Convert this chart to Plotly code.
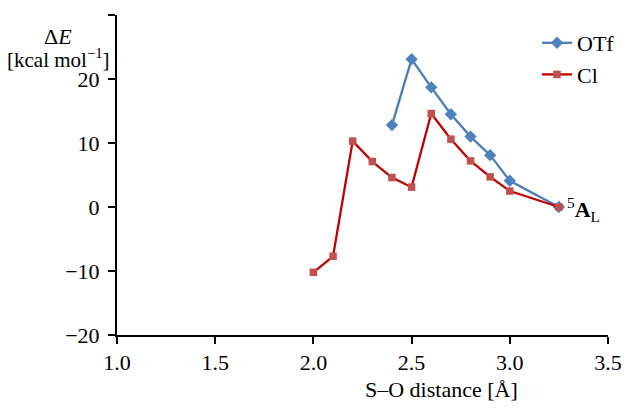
import plotly.graph_objects as go

otf_x = [2.4, 2.5, 2.6, 2.7, 2.8, 2.9, 3.0, 3.25]
otf_y = [12.8, 23.1, 18.7, 14.5, 11.0, 8.1, 4.1, 0.0]
cl_x = [2.0, 2.1, 2.2, 2.3, 2.4, 2.5, 2.6, 2.7, 2.8, 2.9, 3.0, 3.25]
cl_y = [-10.2, -7.7, 10.3, 7.1, 4.6, 3.1, 14.6, 10.6, 7.2, 4.7, 2.5, 0.0]
x_ticks = [1.0, 1.5, 2.0, 2.5, 3.0, 3.5]
y_ticks = [-20, -10, 0, 10, 20, 30]

FONT = "Liberation Serif"
FS = 22
W, H = 629, 410
OFF = 8  # page body offset in the screenshot
# plot area edges as they should appear in the screenshot
PL, PR, PT, PB = 117, 608, 15, 335
L, R, T, B = PL - OFF, W - (PR - OFF), PT - OFF, H - (PB - OFF)
PW, PH = PR - PL, PB - PT


def px(x):
    # screenshot pixel x -> paper coordinate
    return (x - PL) / PW


def py(y):
    return (PB - y) / PH


fig = go.Figure()
fig.add_trace(go.Scatter(x=otf_x, y=otf_y, name="OTf", mode="lines+markers", legendgroup="a",
                         line=dict(color="#4A7EBB", width=2.3),
                         marker=dict(symbol="diamond", size=9.5, color="#4F81BD")))
fig.add_trace(go.Scatter(x=cl_x, y=cl_y, name="Cl", mode="lines+markers", legendgroup="b",
                         line=dict(color="#C00000", width=2.3),
                         marker=dict(symbol="square", size=7.5, color="#C0504D")))

fig.update_layout(
    width=W, height=H,
    margin=dict(l=L, r=R, t=T, b=B, autoexpand=False),
    paper_bgcolor="white", plot_bgcolor="white",
    font=dict(family=FONT, size=FS, color="black"),
    showlegend=True,
    legend=dict(x=px(537), y=py(22), xanchor="left", yanchor="top",
                bgcolor="rgba(0,0,0,0)", font=dict(size=FS),
                itemwidth=30, traceorder="grouped", tracegroupgap=0),
    xaxis=dict(range=[1.0, 3.5], tickvals=x_ticks, ticktext=[f"{v:.1f}" for v in x_ticks],
               showgrid=False, zeroline=False, showline=True, linecolor="black", linewidth=2,
               ticks="outside", ticklen=7, tickwidth=2, tickcolor="black", ticklabelstandoff=0),
    yaxis=dict(range=[-20, 30], tickvals=y_ticks,
               ticktext=[("\u2212" + str(abs(v))) if v < 0 else str(v) for v in y_ticks],
               showgrid=False, zeroline=False, showline=True, linecolor="black", linewidth=2,
               ticks="outside", ticklen=7, tickwidth=2, tickcolor="black", ticklabelstandoff=4),
)

fig.add_annotation(x=3.25, y=0, xref="x", yref="y", text="<sup>5</sup><b>A</b><sub>L</sub>",
                   showarrow=False, xanchor="left", yanchor="middle", xshift=6, yshift=-2,
                   font=dict(family=FONT, size=FS))
fig.add_annotation(x=px(441), y=py(389), xref="paper", yref="paper", text="S\u2013O distance [\u00c5]",
                   showarrow=False, xanchor="center", yanchor="middle", font=dict(family=FONT, size=FS))
fig.add_annotation(x=px(58), y=py(36), xref="paper", yref="paper",
                   text="\u0394<i>E</i>",
                   showarrow=False, xanchor="center", yanchor="middle",
                   font=dict(family=FONT, size=FS))
fig.add_annotation(x=px(58), y=py(58), xref="paper", yref="paper",
                   text="[kcal mol<sup>\u22121</sup>]",
                   showarrow=False, xanchor="center", yanchor="middle",
                   font=dict(family=FONT, size=FS - 1))

fig.write_html("out.html")
